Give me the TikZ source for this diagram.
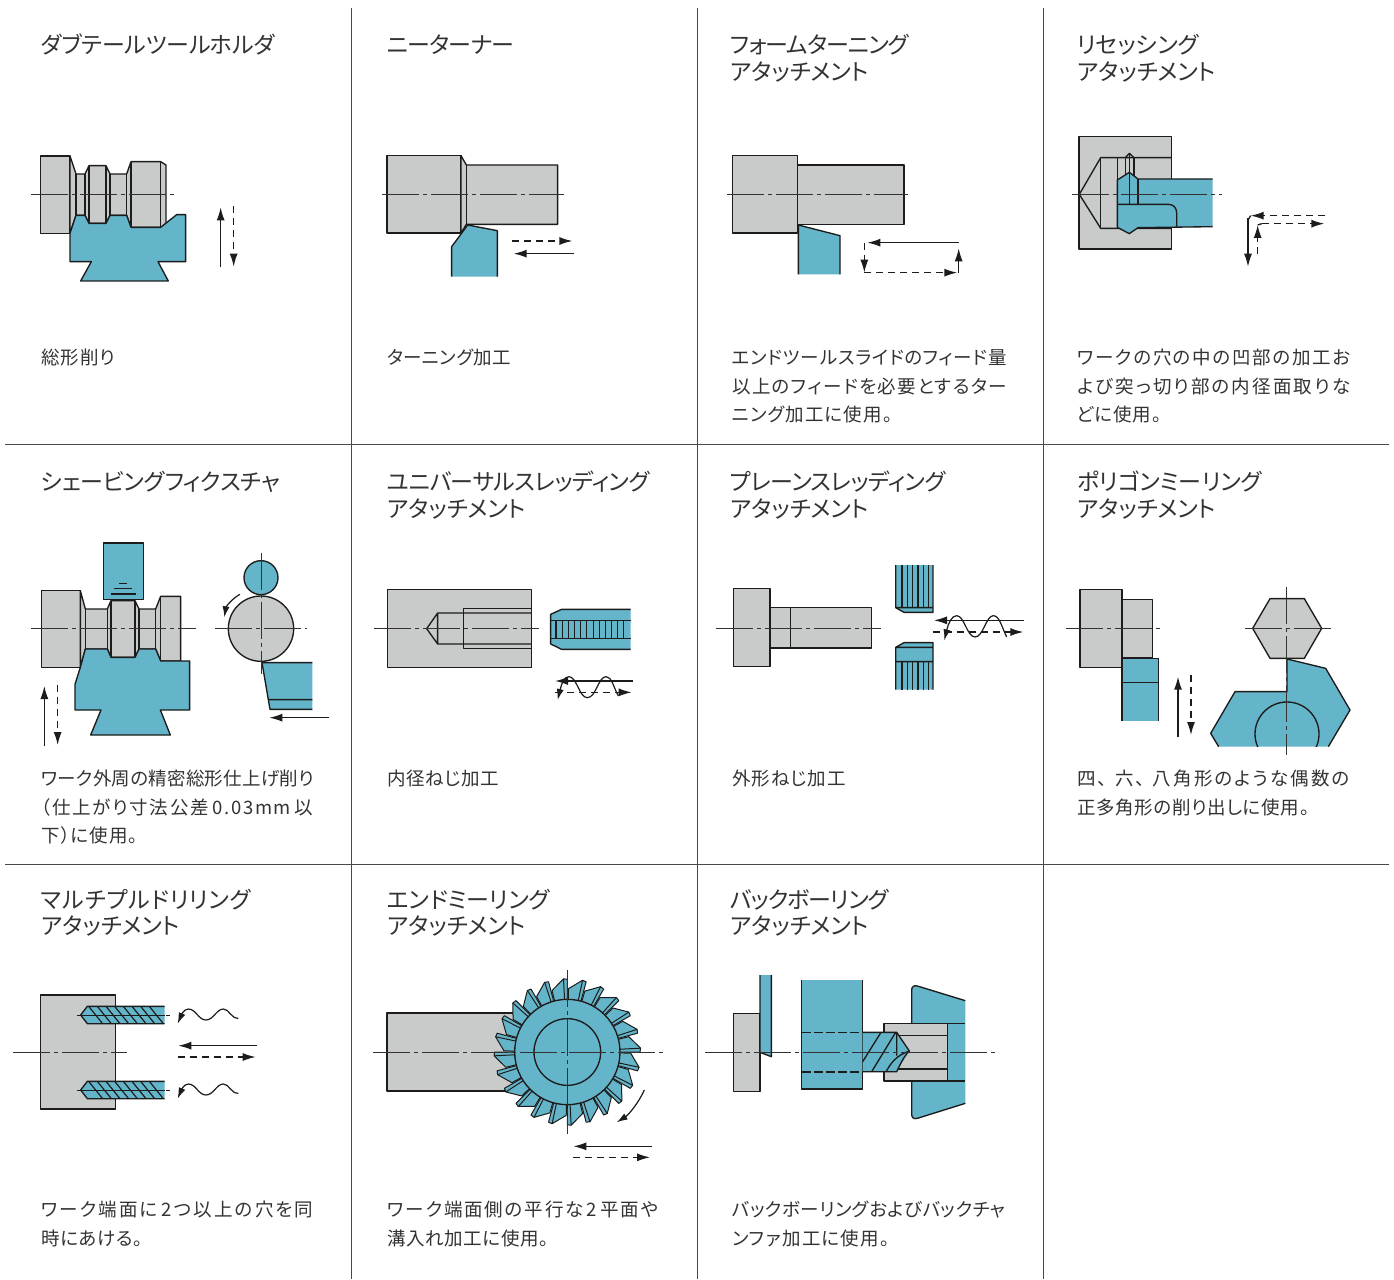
\documentclass[tikz,border=0pt]{standalone}
\usepackage{fontspec}
\usetikzlibrary{arrows.meta}
\newfontfamily\jp{Noto Sans CJK JP}[RawFeature=+palt]
\newcommand{\lsp}[2]{{\addfontfeature{LetterSpace=#1}#2}}
\definecolor{wgray}{HTML}{C9CACA}
\definecolor{tteal}{HTML}{65B5CA}
\definecolor{ink}{HTML}{1C1C1C}
\definecolor{txt}{HTML}{333333}
\tikzset{
  z/.style 2 args={shift={(#1,#2)},x=0.33333pt,y=-0.33333pt},
  ol/.style={draw=ink,line width=1.35pt,line join=round},
  wk/.style={ol,fill=wgray},
  tl/.style={ol,fill=tteal},
  cl/.style={draw=ink!90,line width=1pt,dash pattern=on 37pt off 4pt on 4pt off 4pt},
  sa/.style={draw=ink,line width=1.35pt,-{Latex[length=13pt,width=8pt]}},
  da/.style={draw=ink,line width=1.35pt,dash pattern=on 7pt off 5pt,-{Latex[length=13pt,width=8pt]}},
  wv/.style={draw=ink,line width=1.2pt,{Latex[length=11pt,width=7pt]}-},
  grid/.style={draw=ink!80,line width=0.9pt},
  ttl/.style={anchor=base west,inner sep=0pt,font=\jp\fontsize{23pt}{27pt}\selectfont,text=txt},
  bdy/.style={anchor=base west,inner sep=0pt,font=\jp\fontsize{18.5pt}{28pt}\selectfont,text=txt},
}
\begin{document}
\begin{tikzpicture}[x=1pt,y=-1pt]
\useasboundingbox (0,0) rectangle (1394,1279);
\fill[white] (0,0) rectangle (1394,1279);
% grid
\draw[grid] (351,8)--(351,1279) (697,8)--(697,1279) (1043,8)--(1043,1279);
\draw[grid] (5,444)--(1389,444) (5,864)--(1389,864);
% titles
\node[ttl] (t1) at (41,53.5) {\lsp{-1.3}{ダブテールツールホルダ}};
\node[ttl] (t2) at (387,53.5) {\lsp{-3.5}{ニーターナー}};
\node[ttl] (t3a) at (730,53.5) {\lsp{-3.8}{フォームターニング}};
\node[ttl] (t3b) at (730,80.5) {アタッチメント};
\node[ttl] (t4a) at (1077,53.5) {リセッシング};
\node[ttl] (t4b) at (1077,80.5) {アタッチメント};
\node[ttl] (t5) at (41,490.5) {\lsp{-1.2}{シェービングフィクスチャ}};
\node[ttl] (t6a) at (387,490.5) {\lsp{-2.2}{ユニバーサルスレッディング}};
\node[ttl] (t6b) at (387,517.5) {アタッチメント};
\node[ttl] (t7a) at (730,490.5) {\lsp{-2.2}{プレーンスレッディング}};
\node[ttl] (t7b) at (730,517.5) {アタッチメント};
\node[ttl] (t8a) at (1077,490.5) {ポリゴンミーリング};
\node[ttl] (t8b) at (1077,517.5) {アタッチメント};
\node[ttl] (t9a) at (41,908.5) {\lsp{3.4}{マルチプルドリリング}};
\node[ttl] (t9b) at (41,934.5) {アタッチメント};
\node[ttl] (t10a) at (387,908.5) {エンドミーリング};
\node[ttl] (t10b) at (387,934.5) {アタッチメント};
\node[ttl] (t11a) at (730,908.5) {\lsp{-4.3}{バックボーリング}};
\node[ttl] (t11b) at (730,934.5) {アタッチメント};
% body
\node[bdy] (b1) at (41,364.2) {\lsp{5.4}{総形削り}};
\node[bdy] (b2) at (387,364.2) {\lsp{1.8}{ターニング加工}};
\node[bdy] (b3a) at (732,364.2) {\lsp{4}{エンドツールスライドのフィード量}};
\node[bdy] (b3b) at (732,393.2) {\lsp{7.7}{以上のフィードを必要とするター}};
\node[bdy] (b3c) at (732,421.2) {\lsp{6}{ニング加工に使用。}};
\node[bdy] (b4a) at (1077,364.2) {\lsp{9.1}{ワークの穴の中の凹部の加工お}};
\node[bdy] (b4b) at (1077,393.2) {\lsp{11.6}{よび突っ切り部の内径面取りな}};
\node[bdy] (b4c) at (1077,421.2) {\lsp{4}{どに使用。}};
\node[bdy] (b5a) at (41,785.2) {\lsp{1.2}{ワーク外周の精密総形仕上げ削り}};
\node[bdy] (b5b) at (41,814.2) {\lsp{9.5}{（仕上がり寸法公差\,0.03mm\,以}};
\node[bdy] (b5c) at (41,842.2) {\lsp{5.4}{下）に使用。}};
\node[bdy] (b6) at (387,785.2) {\lsp{3.2}{内径ねじ加工}};
\node[bdy] (b7) at (732,785.2) {\lsp{5.4}{外形ねじ加工}};
\node[bdy] (b8a) at (1077,785.2) {\lsp{11.5}{四、\hspace{8pt}六、\hspace{8pt}八角形のような偶数の}};
\node[bdy] (b8b) at (1077,814.2) {\lsp{3.6}{正多角形の削り出しに使用。}};
\node[bdy] (b9a) at (41,1216.2) {\lsp{11.5}{ワーク端面に\,2\,つ以上の穴を同}};
\node[bdy] (b9b) at (41,1245.2) {\lsp{3.2}{時にあける。}};
\node[bdy] (b10a) at (387,1216.2) {\lsp{10}{ワーク端面側の平行な\,2\,平面や}};
\node[bdy] (b10b) at (387,1245.2) {\lsp{3.4}{溝入れ加工に使用。}};
\node[bdy] (b11a) at (732,1216.2) {\lsp{2.9}{バックボーリングおよびバックチャ}};
\node[bdy] (b11b) at (732,1245.2) {\lsp{6.8}{ンファ加工に使用。}};

% ---- cell 1
\begin{scope}[z={20}{130}]
\draw[wk] (62,78) rectangle (150,310);
\draw[wk] (150,78)--(168,132)--(195,132)--(207,107)--(258,107)--(270,132)--(320,132)--(333,95)--(422,95)--(438,105)--(438,284)--(422,292)--(333,292)--(320,256)--(270,256)--(258,280)--(207,280)--(195,256)--(168,256)--(150,310)--cycle;
\draw[ol] (168,132)--(168,256) (195,132)--(195,256) (207,107)--(207,280) (258,107)--(258,280) (270,132)--(270,256) (320,132)--(320,256) (333,95)--(333,292) (422,95)--(422,292);
\draw[tl] (150,310)--(168,256)--(195,256)--(207,280)--(258,280)--(270,256)--(320,256)--(333,292)--(422,292)--(470,254)--(497,254)--(497,395)--(414,395)--(445,453)--(182,453)--(214,395)--(150,395)--cycle;
\draw[cl] (34,194)--(465,194);
\draw[sa] (602,412)--(602,232);
\draw[da] (641,228)--(641,410);
\end{scope}
% ---- cell 2
\begin{scope}[z={375}{140}]
\draw[wk] (36,47) rectangle (258,279);
\draw[wk] (258,47)--(274,75)--(548,75)--(548,253)--(274,253)--(258,279)--cycle;
\draw[ol] (274,75)--(274,253);
\fill[tteal] (278,255)--(367,272)--(367,410)--(230,410)--(230,320)--cycle;
\draw[ol] (230,410)--(230,320)--(278,255)--(367,272)--(367,410);
\draw[cl] (22,163)--(566,163);
\draw[da] (412,303)--(592,303);
\draw[sa] (596,341)--(416,341);
\end{scope}
% ---- cell 3
\begin{scope}[z={720}{140}]
\draw[wk] (38,47) rectangle (233,279);
\draw[wk] (233,75) rectangle (552,253);
\fill[tteal] (235,255)--(360,287)--(360,403)--(235,403)--cycle;
\draw[ol] (235,403)--(235,255)--(360,287)--(360,403);
\draw[cl] (22,163)--(565,163);
\draw[sa] (716,308)--(442,308);
\draw[da] (433,308)--(433,398);
\draw[da] (433,398)--(712,398);
\draw[sa] (716,398)--(716,325);
\end{scope}
% ---- cell 4
\begin{scope}[z={1060}{120}]
\draw[wk] (57,50) rectangle (334,387);
\draw[ol] (334,113)--(122,113)--(58,223)--(122,325)--(334,325);
\draw[ol] (122,113)--(122,325) (172,113)--(172,185) (196,113)--(196,170) (222,113)--(222,170);
\draw[ol] (196,113)--(208,100)--(222,113);
\fill[tteal] (458,177)--(234,177)--(208,157)--(172,180)--(172,322)--(208,341)--(234,323)--(458,320)--cycle;
\draw[ol] (458,177)--(234,177)--(208,157)--(172,180)--(172,322)--(208,341)--(234,323)--(458,320);
\draw[ol] (172,253)--(325,253) .. controls (342,253) and (350,265) .. (350,280)--(350,320);
\draw[ol] (234,177)--(234,253) (208,100)--(208,253);
\draw[cl] (36,223)--(486,223);
\draw[draw=ink,line width=1.35pt] (564,300)--(572,287);
\draw[sa] (564,295)--(564,440);
\draw[da] (593,402)--(593,315);
\draw[da] (795,287)--(572,287);
\draw[draw=ink,line width=1.35pt] (593,315)--(605,311);
\draw[da] (605,311)--(793,311);
\end{scope}
% ---- cell 5
\begin{scope}[z={20}{535}]
\draw[wk] (65,167) rectangle (181,397);
\draw[wk] (181,167)--(196,222)--(262,222)--(273,197)--(345,197)--(357,222)--(407,222)--(422,184)--(482,184)--(482,378)--(422,378)--(407,342)--(357,342)--(345,367)--(273,367)--(262,342)--(196,342)--(181,397)--cycle;
\draw[ol] (196,222)--(196,342) (262,222)--(262,342) (273,197)--(273,367) (345,197)--(345,367) (357,222)--(357,342) (407,222)--(407,342) (422,184)--(422,378);
\draw[tl] (250,24) rectangle (370,194);
\draw[ol] (297,146)--(322,146) (283,161)--(337,161) (273,177)--(348,177);
\draw[tl] (181,397)--(196,342)--(262,342)--(273,367)--(345,367)--(357,342)--(407,342)--(422,378)--(509,378)--(509,525)--(421,525)--(451,600)--(212,600)--(243,525)--(165,525)--(165,448)--cycle;
\draw[cl] (33,281)--(528,281);
\draw[sa] (73,633)--(73,453);
\draw[da] (113,449)--(113,630);
\draw[tl] (723,128) circle[x radius=51,y radius=51];
\draw[wk] (723,281) circle[x radius=98,y radius=98];
\fill[tteal] (726,383)--(877,383)--(877,523)--(750,523)--cycle;
\draw[ol] (877,383)--(726,383)--(750,523)--(877,523) (746,494)--(877,494);
\draw[cl] (585,281)--(862,281);
\draw[cl] (723,53)--(723,418);
\draw[draw=ink,line width=1.2pt,-{Latex[length=11pt,width=7pt]}] (660,178) .. controls (637,190) and (618,215) .. (613,247);
\draw[sa] (928,548)--(748,548);
\end{scope}
% ---- cell 6
\begin{scope}[z={370}{570}]
\draw[wk] (52,58) rectangle (485,292);
\draw[ol] (485,129)--(203,129)--(170,176)--(203,222)--(485,222) (203,129)--(203,222);
\draw[ol] (281,116) rectangle (485,236);
\draw[cl] (12,176)--(508,176);
\fill[tteal] (542,133)--(575,118)--(782,118)--(782,238)--(575,238)--(542,222)--cycle;
\draw[ol] (782,118)--(575,118)--(542,133)--(542,222)--(575,238)--(782,238);
\draw[ol] (542,152)--(782,152) (542,205)--(782,205);
\foreach \xx in {558,577,595,613,632,650,670,688,706,724,742,760} \draw[ol] (\xx,152)--(\xx,205);
\draw[sa] (788,333)--(555,333);
\draw[da] (555,367)--(785,367);
\draw[wv] (563,390) .. controls (575,340) and (582,320) .. (597,320) .. controls (620,320) and (628,383) .. (652,383) .. controls (678,383) and (685,320) .. (708,320) .. controls (725,320) and (730,350) .. (745,378);
\end{scope}
% ---- cell 7
\begin{scope}[z={710}{555}]
\draw[wk] (70,101) rectangle (180,335);
\draw[wk] (180,158) rectangle (242,279);
\draw[wk] (242,158) rectangle (484,279);
\draw[cl] (17,221)--(513,221);
\fill[tteal] (557,30) rectangle (669,158);
\fill[tteal] (557,158)--(669,158)--(669,172)--(582,172)--cycle;
\draw[ol] (557,30)--(557,158)--(582,172)--(669,172)--(669,30) (557,158)--(669,158);
\foreach \xx in {576,592,608,624,640,656} \draw[ol] (\xx,30)--(\xx,158);
\fill[tteal] (557,277)--(582,263)--(669,263)--(669,404)--(557,404)--cycle;
\draw[ol] (557,404)--(557,277)--(582,263)--(669,263)--(669,404) (557,277)--(669,277) (557,320)--(669,320);
\foreach \xx in {576,592,608,624,640,656} \draw[ol] (\xx,320)--(\xx,404);
\draw[sa] (942,196)--(672,196);
\draw[da] (668,231)--(940,231);
\draw[wv] (703,256) .. controls (715,205) and (725,182) .. (740,182) .. controls (763,182) and (771,246) .. (795,246) .. controls (820,246) and (828,182) .. (850,182) .. controls (868,182) and (875,215) .. (890,246);
\end{scope}
% ---- cell 8
\begin{scope}[z={1060}{580}]
\draw[wk] (60,29) rectangle (186,263);
\draw[wk] (186,59) rectangle (277,234);
\draw[cl] (18,145)--(302,145);
\fill[tteal] (186,235) rectangle (296,422);
\draw[ol] (186,422)--(186,235)--(296,235)--(296,422) (186,308)--(296,308);
\draw[sa] (354,470)--(354,290);
\draw[da] (393,285)--(393,465);
\draw[wk] (578,145)--(630,56)--(733,56)--(785,145)--(733,235)--(630,235)--cycle;
\fill[tteal] (681,237)--(797,265)--(870,390)--(805,500)--(476,500)--(452,460)--(525,335)--(681,335)--cycle;
\draw[ol] (805,500)--(870,390)--(797,265)--(681,237)--(681,335)--(525,335)--(452,460)--(476,500);
\begin{scope}
\clip (500,340) rectangle (860,500);
\draw[ol] (681,462) circle[x radius=96,y radius=96];
\end{scope}
\draw[cl] (555,145)--(815,145);
\draw[cl] (680,22)--(680,525);
\end{scope}
% ---- cell 9
\begin{scope}[z={10}{985}]
\draw[wk] (92,30) rectangle (316,372);
\draw[cl] (10,201)--(350,201);
\foreach \dy in {0,225} {
  \begin{scope}[yshift=-\dy*0.33333pt]
  \fill[tteal] (212,90)--(232,64)--(464,64)--(464,116)--(232,116)--cycle;
  \draw[ol] (464,64)--(232,64)--(212,90)--(232,116)--(464,116);
  \foreach \xx in {236,262,288,314,340,366,392,418} \draw[draw=ink,line width=1.2pt] (\xx,64)--(\xx+42,116);
  \draw[draw=ink,line width=1pt] (200,90)--(464,90);
  \draw[draw=ink,line width=1pt,dash pattern=on 4pt off 4pt] (468,90)--(484,90);
  \draw[wv] (503,116) .. controls (512,95) and (520,72) .. (535,72) .. controls (558,72) and (565,105) .. (588,105) .. controls (610,105) and (620,72) .. (640,72) .. controls (658,72) and (662,100) .. (685,100);
  \end{scope}
}
\draw[sa] (741,182)--(505,182);
\draw[da] (503,216)--(737,216);
\end{scope}
% ---- cell 10
\draw[wk] (387,1013) rectangle (520,1091);
\begin{scope}[z={480}{965}]
\begin{scope}[shift={(262,261)}]
\foreach \a in {0,15,...,345} {
  \draw[tl,line width=1pt] (\a:150)--(\a:218)--(\a-3:220)--(\a-14:190)--(\a-14:150)--cycle;
}
\foreach \a in {0,15,...,345} {
  \draw[draw=ink,line width=1pt] (\a-3:155)--(\a-3:220);
}
\draw[tl] (0,0) circle[x radius=158,y radius=158];
\draw[ol] (0,0) circle[x radius=100,y radius=100];
\end{scope}
\draw[cl] (262,15)--(262,508);
\draw[draw=ink,line width=1.2pt,-{Latex[length=11pt,width=7pt]}] (493,375) .. controls (475,415) and (445,450) .. (410,472);
\draw[sa] (515,544)--(280,544);
\draw[da] (278,577)--(510,577);
\end{scope}
\draw[cl] (373,1052)--(665,1052);
% ---- cell 11
\begin{scope}[z={700}{965}]
\draw[wk] (100,145) rectangle (180,379);
\fill[tteal] (180,30)--(214,30)--(214,275)--(180,262)--cycle;
\draw[ol] (180,30)--(180,262)--(214,275)--(214,30);
\fill[tteal] (305,46) rectangle (488,372);
\draw[ol] (305,46)--(305,372)--(488,372)--(488,46);
\draw[ol,dash pattern=on 9pt off 3pt] (305,202)--(488,202) (305,321)--(488,321);
\fill[tteal] (635,176)--(635,75) .. controls (635,65) and (642,60) .. (652,63)--(796,107)--(796,415)--(652,460) .. controls (642,463) and (635,458) .. (635,448)--(635,348)--cycle;
\draw[ol] (635,176)--(635,75) .. controls (635,65) and (642,60) .. (652,63)--(796,107);
\draw[ol] (635,348)--(635,448) .. controls (635,458) and (642,463) .. (652,460)--(796,415);
\draw[wk] (552,176) rectangle (742,348);
\draw[ol] (590,211)--(742,211) (590,312)--(742,312);
\draw[ol] (742,176)--(796,176) (742,348)--(796,348);
\fill[tteal] (488,202)--(590,202)--(628,258)--(590,320)--(488,320)--cycle;
\draw[ol] (488,202)--(590,202)--(628,258) .. controls (610,275) and (600,300) .. (590,320)--(488,320);
\draw[ol] (488,290)--(543,202) (515,320)--(587,202) (558,320) .. controls (570,300) and (585,272) .. (628,258) (590,202)--(590,272);
\draw[cl] (15,261)--(888,261);
\end{scope}
\end{tikzpicture}
\end{document}
